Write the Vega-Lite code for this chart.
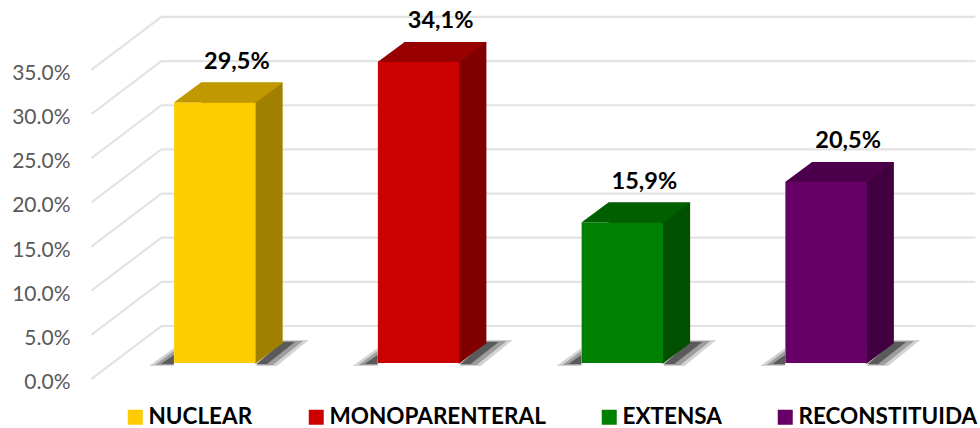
{"$schema":"https://vega.github.io/schema/vega-lite/v6.json","autosize":"none","width":815,"height":379,"padding":{"left":113,"top":0,"right":52,"bottom":49},"background":"white","config":{"view":{"stroke":null},"font":"Lato"},"datasets":{"bars":[{"tipo":"NUCLEAR","valor":29.5,"base":0,"rotulo":"29,5%"},{"tipo":"MONOPARENTERAL","valor":34.1,"base":0,"rotulo":"34,1%"},{"tipo":"EXTENSA","valor":15.9,"base":0,"rotulo":"15,9%"},{"tipo":"RECONSTITUIDA","valor":20.5,"base":0,"rotulo":"20,5%"}],"ticks":[{"t":0,"tipo":"NUCLEAR"},{"t":5,"tipo":"NUCLEAR"},{"t":10,"tipo":"NUCLEAR"},{"t":15,"tipo":"NUCLEAR"},{"t":20,"tipo":"NUCLEAR"},{"t":25,"tipo":"NUCLEAR"},{"t":30,"tipo":"NUCLEAR"},{"t":35,"tipo":"NUCLEAR"}]},"encoding":{"x":{"field":"tipo","type":"nominal","sort":null,"scale":{"domain":["NUCLEAR","MONOPARENTERAL","EXTENSA","RECONSTITUIDA"],"paddingInner":0.6,"paddingOuter":0.3},"axis":null}},"layer":[{"data":{"name":"ticks"},"mark":{"type":"point","shape":"M-123.5,0L-53.5,-53L760.5,-53","size":4,"filled":false,"stroke":"#e3e3e3","strokeWidth":2.2,"opacity":1},"encoding":{"y":{"field":"t","type":"quantitative","scale":{"domain":[0,42.92],"nice":false,"zero":true},"axis":{"values":[0,5,10,15,20,25,30,35],"labelExpr":"format(datum.value/100,'.1%')","title":null,"grid":false,"domain":false,"ticks":false,"labelPadding":43,"labelFontSize":21,"labelColor":"#595959","labelFont":"Lato","labelOffset":3.5}}}},{"data":{"name":"bars"},"mark":{"type":"point","shape":"M-66,3L-41,3L-41,-15ZM41,3L68,-23L94,-23L62,3Z","size":4,"filled":true,"strokeWidth":0,"opacity":0.2,"color":"#222222","yOffset":-16},"encoding":{"y":{"field":"base","type":"quantitative"}}},{"data":{"name":"bars"},"mark":{"type":"point","shape":"M-60,2L-41,2L-41,-12ZM41,2L68,-22L88,-22L58,2Z","size":4,"filled":true,"strokeWidth":0,"opacity":0.3,"color":"#222222","yOffset":-16},"encoding":{"y":{"field":"base","type":"quantitative"}}},{"data":{"name":"bars"},"mark":{"type":"point","shape":"M-54,1L-41,1L-41,-8ZM41,1L68,-21L80,-21L52,1Z","size":4,"filled":true,"strokeWidth":0,"opacity":0.55,"color":"#222222","yOffset":-16},"encoding":{"y":{"field":"base","type":"quantitative"}}},{"data":{"name":"bars"},"mark":{"type":"bar","xOffset":27,"yOffset":-36},"encoding":{"y":{"field":"valor","type":"quantitative"},"color":{"field":"tipo","type":"nominal","scale":{"domain":["NUCLEAR","MONOPARENTERAL","EXTENSA","RECONSTITUIDA"],"range":["#a08000","#800000","#005000","#400040"]},"legend":null}}},{"data":{"name":"bars"},"mark":{"type":"point","shape":"M40,1L68,-20L40,-20Z","size":4,"filled":true,"opacity":1,"yOffset":-16},"encoding":{"y":{"field":"base","type":"quantitative"},"color":{"field":"tipo","type":"nominal","scale":{"domain":["NUCLEAR","MONOPARENTERAL","EXTENSA","RECONSTITUIDA"],"range":["#a08000","#800000","#005000","#400040"]},"legend":null}}},{"data":{"name":"bars"},"mark":{"type":"bar","yOffset":-16},"encoding":{"y":{"field":"valor","type":"quantitative"},"color":{"field":"tipo","type":"nominal","scale":{"domain":["NUCLEAR","MONOPARENTERAL","EXTENSA","RECONSTITUIDA"],"range":["#ffcc00","#cc0000","#008000","#660066"]},"legend":{"title":null,"orient":"none","legendX":11,"legendY":406,"direction":"horizontal","columns":4,"gridAlign":"none","columnPadding":52,"symbolType":"square","symbolSize":225,"symbolStrokeWidth":0,"labelFontSize":22.5,"labelFontWeight":"bold","labelColor":"#000000","labelFont":"Lato","labelOffset":2,"labelLimit":300}}}},{"data":{"name":"bars"},"mark":{"type":"point","shape":"M-41,0L41,0L68,-20L-14,-20Z","size":4,"filled":true,"opacity":1,"yOffset":-16},"encoding":{"y":{"field":"valor","type":"quantitative"},"color":{"field":"tipo","type":"nominal","scale":{"domain":["NUCLEAR","MONOPARENTERAL","EXTENSA","RECONSTITUIDA"],"range":["#c09900","#990000","#006000","#4c004c"]},"legend":null}}},{"data":{"name":"bars"},"mark":{"type":"text","fontSize":23.5,"fontWeight":"bold","color":"#000000","font":"Lato","baseline":"middle","xOffset":22,"yOffset":-57},"encoding":{"y":{"field":"valor","type":"quantitative"},"text":{"field":"rotulo"}}}],"resolve":{"scale":{"color":"independent"}}}
